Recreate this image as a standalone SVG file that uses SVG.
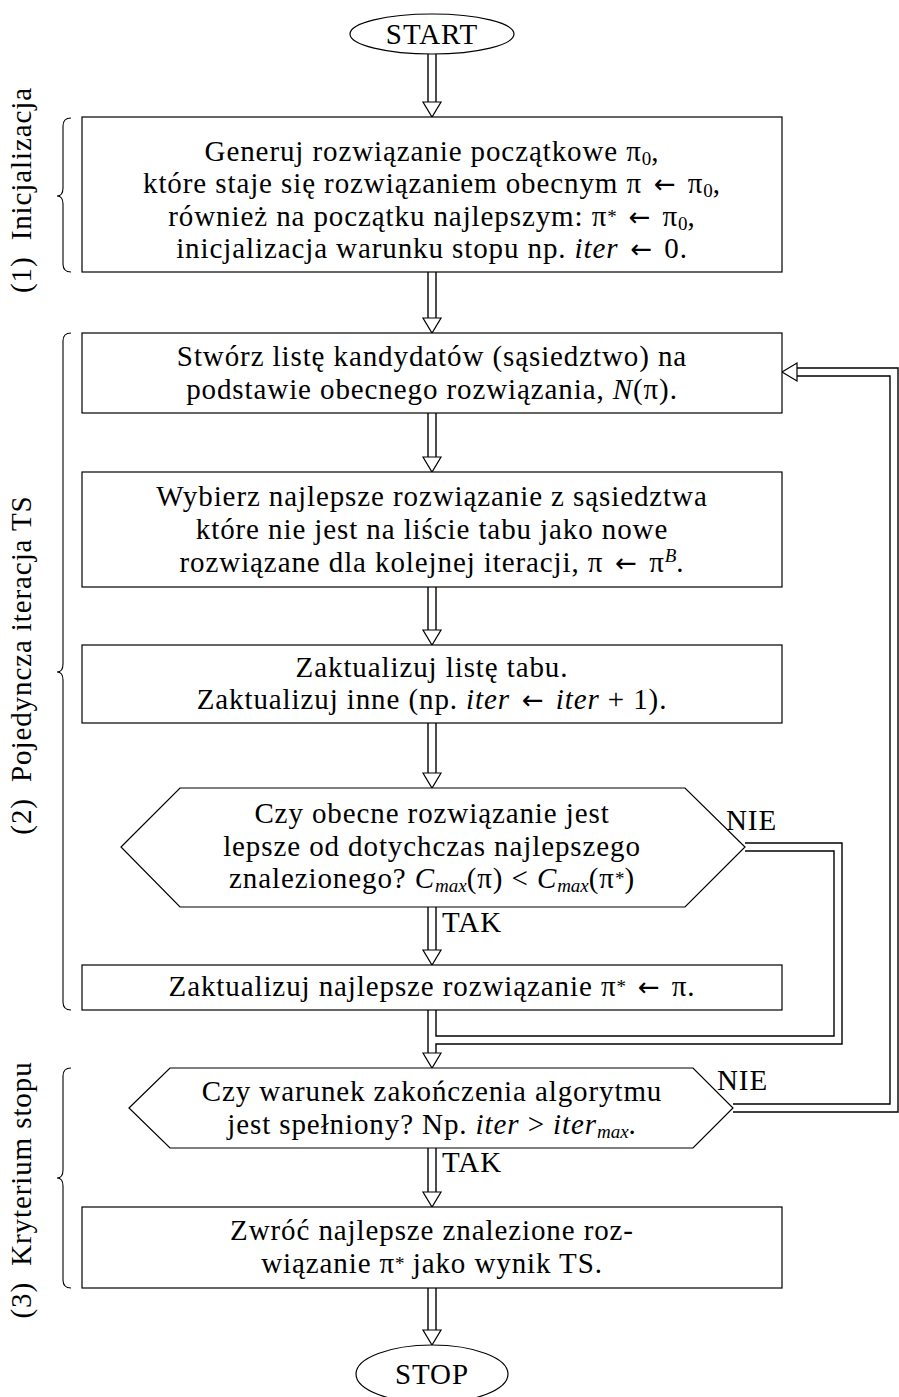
<svg xmlns="http://www.w3.org/2000/svg" width="899" height="1397" viewBox="0 0 899 1397">
<style>
text{font-family:"Liberation Serif","Times New Roman",serif;font-size:29px;letter-spacing:0.9px;fill:#000}
.c{text-anchor:middle}
.i{font-style:italic}
.s{font-size:19px;letter-spacing:0}
.ar{font-family:"DejaVu Sans",sans-serif;font-size:26px;letter-spacing:0}
.node{fill:#fff;stroke:#000;stroke-width:1.2}
.brace{fill:none;stroke:#000;stroke-width:1.1}
.dblk{fill:none;stroke:#000;stroke-width:9.4;stroke-linejoin:miter}
.dwht{fill:none;stroke:#fff;stroke-width:6.6;stroke-linejoin:miter}
.head{fill:#fff;stroke:#000;stroke-width:1.2;stroke-linejoin:miter}
</style>
<defs>
<polygon id="hd" class="head" points="-9,-15 9,-15 0,0"/>
</defs>

<g id="connectors">
  <g class="blk">
    <path class="dblk" d="M432 54V103"/>
    <path class="dblk" d="M432 272V319"/>
    <path class="dblk" d="M432 413V458"/>
    <path class="dblk" d="M432 587V631"/>
    <path class="dblk" d="M432 723V774"/>
    <path class="dblk" d="M432 907V951"/>
    <path class="dblk" d="M432 1010V1054"/>
    <path class="dblk" d="M432 1148V1193"/>
    <path class="dblk" d="M432 1288V1331"/>
    <path class="dblk" d="M745 847H838V1040H432"/>
    <path class="dblk" d="M733 1108H894V372H796"/>
  </g>
  <g class="wht">
    <path class="dwht" d="M432 53V104"/>
    <path class="dwht" d="M432 271V320"/>
    <path class="dwht" d="M432 412V459"/>
    <path class="dwht" d="M432 586V632"/>
    <path class="dwht" d="M432 722V775"/>
    <path class="dwht" d="M432 906V952"/>
    <path class="dwht" d="M432 1009V1055"/>
    <path class="dwht" d="M432 1147V1194"/>
    <path class="dwht" d="M432 1287V1332"/>
    <path class="dwht" d="M744 847H838V1040H432"/>
    <path class="dwht" d="M732 1108H894V372H795"/>
  </g>
  <use href="#hd" x="432" y="117"/>
  <use href="#hd" x="432" y="333"/>
  <use href="#hd" x="432" y="472"/>
  <use href="#hd" x="432" y="645"/>
  <use href="#hd" x="432" y="788"/>
  <use href="#hd" x="432" y="965"/>
  <use href="#hd" x="432" y="1068"/>
  <use href="#hd" x="432" y="1207"/>
  <use href="#hd" x="432" y="1345"/>
  <polygon class="head" points="782,372 797,363 797,381"/>
  <text x="726" y="830">NIE</text>
  <text x="717" y="1090">NIE</text>
  <text x="442" y="932">TAK</text>
  <text x="442" y="1172">TAK</text>
</g>

<g id="start">
  <ellipse class="node" cx="432" cy="34" rx="82" ry="20"/>
  <text class="c" x="432" y="44">START</text>
</g>

<g id="init">
  <rect class="node" x="82" y="117" width="700" height="155"/>
  <text class="c" x="432" y="161">Generuj rozwiązanie początkowe π<tspan class="s" dy="4">0</tspan><tspan dy="-4">,</tspan></text>
  <text class="c" x="432" y="193">które staje się rozwiązaniem obecnym π<tspan class="ar" dx="12">←</tspan><tspan dx="12">π</tspan><tspan class="s" dy="4">0</tspan><tspan dy="-4">,</tspan></text>
  <text class="c" x="432" y="226">również na początku najlepszym: π<tspan class="s" dy="-3">*</tspan><tspan class="ar" dy="3" dx="12">←</tspan><tspan dx="12">π</tspan><tspan class="s" dy="4">0</tspan><tspan dy="-4">,</tspan></text>
  <text class="c" x="432" y="258">inicjalizacja warunku stopu np. <tspan class="i">iter</tspan><tspan class="ar" dx="12">←</tspan><tspan dx="12">0.</tspan></text>
</g>

<g id="neighbourhood">
  <rect class="node" x="82" y="333" width="700" height="80"/>
  <text class="c" x="432" y="366">Stwórz listę kandydatów (sąsiedztwo) na</text>
  <text class="c" x="432" y="399">podstawie obecnego rozwiązania, <tspan class="i">N</tspan>(π).</text>
</g>

<g id="select">
  <rect class="node" x="82" y="472" width="700" height="115"/>
  <text class="c" x="432" y="506">Wybierz najlepsze rozwiązanie z sąsiedztwa</text>
  <text class="c" x="432" y="539">które nie jest na liście tabu jako nowe</text>
  <text class="c" x="432" y="572">rozwiązane dla kolejnej iteracji, π<tspan class="ar" dx="12">←</tspan><tspan dx="12">π</tspan><tspan class="s i" dy="-10">B</tspan><tspan dy="10">.</tspan></text>
</g>

<g id="update">
  <rect class="node" x="82" y="645" width="700" height="78"/>
  <text class="c" x="432" y="677">Zaktualizuj listę tabu.</text>
  <text class="c" x="432" y="709">Zaktualizuj inne (np. <tspan class="i">iter</tspan><tspan class="ar" dx="12">←</tspan><tspan class="i" dx="12">iter</tspan> + 1).</text>
</g>

<g id="decision-best">
  <polygon class="node" points="121,847 180,788 685,788 745,847 685,907 180,907"/>
  <text class="c" x="432" y="823">Czy obecne rozwiązanie jest</text>
  <text class="c" x="432" y="856">lepsze od dotychczas najlepszego</text>
  <text class="c" x="432" y="888">znalezionego? <tspan class="i">C</tspan><tspan class="s i" dy="4">max</tspan><tspan dy="-4">(π) &lt; </tspan><tspan class="i">C</tspan><tspan class="s i" dy="4">max</tspan><tspan dy="-4">(π</tspan><tspan class="s" dy="-3">*</tspan><tspan dy="3">)</tspan></text>
</g>

<g id="update-best">
  <rect class="node" x="82" y="965" width="700" height="45"/>
  <text class="c" x="432" y="996">Zaktualizuj najlepsze rozwiązanie π<tspan class="s" dy="-3">*</tspan><tspan class="ar" dy="3" dx="12">←</tspan><tspan dx="12">π.</tspan></text>
</g>

<g id="decision-stop">
  <polygon class="node" points="129,1108 170,1068 693,1068 733,1108 693,1148 170,1148"/>
  <text class="c" x="432" y="1101">Czy warunek zakończenia algorytmu</text>
  <text class="c" x="432" y="1134">jest spełniony? Np. <tspan class="i">iter</tspan> &gt; <tspan class="i">iter</tspan><tspan class="s i" dy="4">max</tspan><tspan dy="-4">.</tspan></text>
</g>

<g id="result">
  <rect class="node" x="82" y="1207" width="700" height="81"/>
  <text class="c" x="432" y="1240">Zwróć najlepsze znalezione roz-</text>
  <text class="c" x="432" y="1273">wiązanie π<tspan class="s" dy="-3">*</tspan><tspan dy="3"> jako wynik TS.</tspan></text>
</g>

<g id="stop">
  <ellipse class="node" cx="432" cy="1374" rx="76" ry="29"/>
  <text class="c" x="432" y="1384">STOP</text>
</g>

<g id="phase-labels">
  <path class="brace" d="M71 118Q63 118 63 126V188Q63 196 57 196Q63 196 63 204V264Q63 272 71 272"/>
  <text class="c" transform="translate(31,190) rotate(-90)">(1) <tspan dx="8">Inicjalizacja</tspan></text>
  <path class="brace" d="M71 333Q63 333 63 341V664Q63 672 57 672Q63 672 63 680V1002Q63 1010 71 1010"/>
  <text class="c" transform="translate(31,665) rotate(-90)">(2) <tspan dx="8">Pojedyncza iteracja TS</tspan></text>
  <path class="brace" d="M71 1068Q63 1068 63 1076V1170Q63 1178 57 1178Q63 1178 63 1186V1280Q63 1288 71 1288"/>
  <text class="c" transform="translate(31,1190) rotate(-90)">(3) <tspan dx="8">Kryterium stopu</tspan></text>
</g>
</svg>
